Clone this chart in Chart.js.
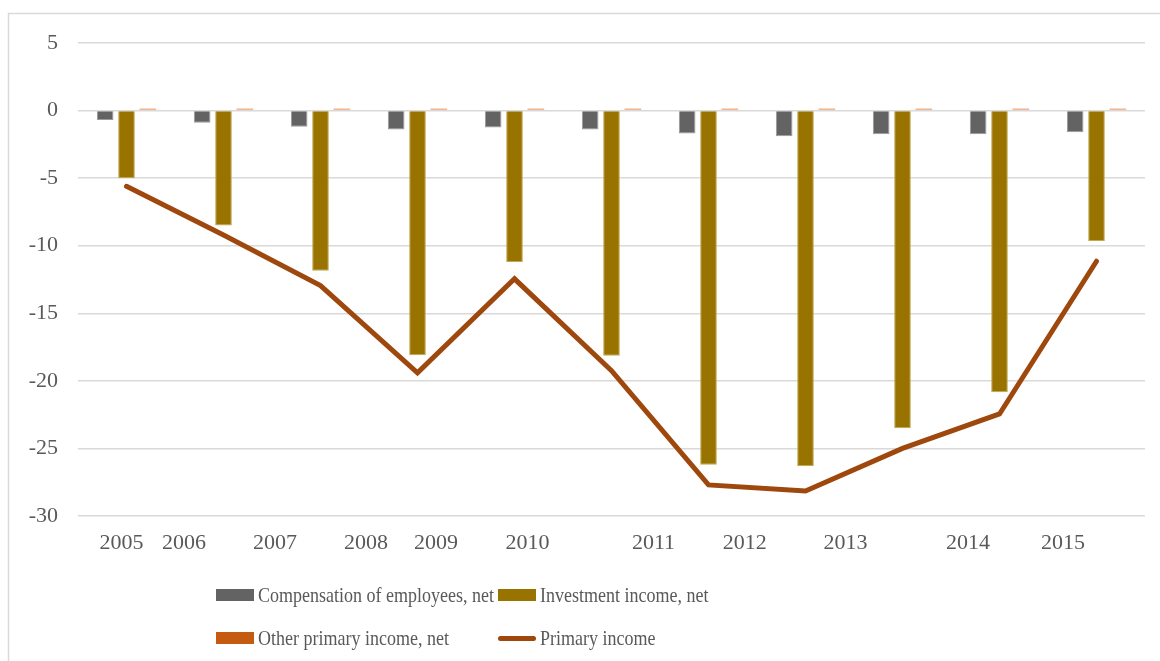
<!DOCTYPE html>
<html>
<head>
<meta charset="utf-8">
<title>Primary income</title>
<script src="https://cdn.jsdelivr.net/npm/chart.js@4/dist/chart.umd.min.js"></script>
<style>
  html, body { margin: 0; padding: 0; background: #ffffff; overflow: hidden; }
  #wrap { position: relative; width: 1160px; height: 661px; }
  #chart { position: absolute; left: 0; top: 0; }
  .legend-item {
    position: absolute; display: flex; align-items: center; height: 24px;
    font-family: "Liberation Serif", "Times New Roman", serif; font-size: 18px; color: #595959;
    white-space: nowrap;
  }
  .legend-item .swatch { width: 38px; height: 12px; margin-right: 4px; flex: none; }
  .legend-item .swatch.line { height: 5px; border-radius: 3px; }
  .legend-item .text { display: inline-block; transform: scaleY(1.15); transform-origin: 50% 50%; }
</style>
</head>
<body>
<div id="wrap">
  <canvas id="chart" width="1160" height="661"></canvas>
  <div id="legend"></div>
</div>
<script>
// Years on the category axis
const years = ['2005', '2006', '2007', '2008', '2009', '2010', '2011', '2012', '2013', '2014', '2015'];

// Series values
const compensation = [-0.7, -0.9, -1.2, -1.4, -1.25, -1.4, -1.7, -1.9, -1.75, -1.75, -1.6];
const investment = [-5.0, -8.5, -11.85, -18.1, -11.2, -18.15, -26.2, -26.3, -23.5, -20.85, -9.65];
const otherIncome = [0.15, 0.15, 0.15, 0.15, 0.15, 0.15, 0.15, 0.15, 0.15, 0.15, 0.15];
const primaryIncome = [-5.6, -9.2, -12.95, -19.4, -12.45, -19.25, -27.7, -28.15, -25.0, -22.45, -11.15];

// Series names
const seriesNames = ['Compensation of employees, net', 'Investment income, net', 'Other primary income, net', 'Primary income'];

// Value axis ticks
const yTicks = [5, 0, -5, -10, -15, -20, -25, -30];

// Where each year label sits along the bottom, in category units
const yearLabelSlots = [0.448, 1.093, 2.031, 2.969, 3.691, 4.634, 5.933, 6.873, 7.912, 9.175, 10.155];

const textColor = '#595959';
const serif = '"Liberation Serif", "Times New Roman", serif';

const frame = {
  id: 'frame',
  beforeDraw(chart) {
    const ctx = chart.ctx;
    ctx.save();
    ctx.strokeStyle = '#d9d9d9';
    ctx.lineWidth = 1.5;
    ctx.beginPath();
    ctx.moveTo(8.5, chart.height);
    ctx.lineTo(8.5, 13.5);
    ctx.lineTo(chart.width, 13.5);
    ctx.stroke();
    ctx.restore();
  }
};

const chart = new Chart(document.getElementById('chart'), {
  data: {
    labels: years,
    datasets: [
      {
        type: 'line', label: seriesNames[3], data: primaryIncome,
        borderColor: '#9E480E', borderWidth: 5, pointRadius: 0, pointHoverRadius: 0,
        tension: 0, borderCapStyle: 'round', borderJoinStyle: 'miter', order: 0,
        xAxisID: 'x', yAxisID: 'y'
      },
      {
        type: 'bar', label: seriesNames[0], data: compensation,
        backgroundColor: '#636363', borderColor: '#9a9a9a', borderWidth: 1, order: 1,
        xAxisID: 'x', yAxisID: 'y'
      },
      {
        type: 'bar', label: seriesNames[1], data: investment,
        backgroundColor: '#997300', borderColor: '#c2a850', borderWidth: 1, order: 1,
        xAxisID: 'x', yAxisID: 'y'
      },
      {
        type: 'bar', label: seriesNames[2], data: otherIncome,
        backgroundColor: '#F0A77C', borderWidth: 0, order: 1,
        xAxisID: 'x', yAxisID: 'y'
      }
    ]
  },
  options: {
    responsive: false,
    animation: false,
    devicePixelRatio: 1,
    layout: { padding: { left: 0, right: 15, top: 43, bottom: 0 } },
    datasets: {
      bar: { categoryPercentage: 0.66, barPercentage: 0.78 }
    },
    plugins: {
      legend: { display: false },
      tooltip: { enabled: false }
    },
    scales: {
      x: {
        type: 'category',
        display: false,
        grid: { display: false }
      },
      yearAxis: {
        type: 'linear',
        position: 'bottom',
        min: 0,
        max: years.length,
        grid: { display: false, drawTicks: false },
        border: { display: false },
        afterBuildTicks(axis) {
          axis.ticks = yearLabelSlots.map(v => ({ value: v }));
        },
        afterFit(axis) { axis.height = 145; },
        ticks: {
          autoSkip: false,
          maxRotation: 0,
          padding: 14,
          color: textColor,
          font: { family: serif, size: 22 },
          callback: (value, index) => years[index]
        }
      },
      y: {
        type: 'linear',
        min: -30,
        max: 5,
        afterBuildTicks(axis) {
          axis.ticks = yTicks.map(v => ({ value: v }));
        },
        afterFit(axis) { axis.width = 78; },
        grid: { color: '#d9d9d9', lineWidth: 1.5, drawTicks: false },
        border: { display: false },
        ticks: {
          padding: 20,
          color: textColor,
          font: { family: serif, size: 22 },
          callback: v => String(v)
        }
      }
    }
  },
  plugins: [frame]
});

// Legend laid out as a two-column grid below the plot
const legendSpecs = [
  { name: seriesNames[0], color: '#636363', kind: 'box', left: 216, top: 583 },
  { name: seriesNames[1], color: '#997300', kind: 'box', left: 498, top: 583 },
  { name: seriesNames[2], color: '#C55A11', kind: 'box', left: 216, top: 626 },
  { name: seriesNames[3], color: '#9E480E', kind: 'line', left: 498, top: 626 }
];
const legendEl = document.getElementById('legend');
legendSpecs.forEach(s => {
  const item = document.createElement('div');
  item.className = 'legend-item';
  item.style.left = s.left + 'px';
  item.style.top = s.top + 'px';
  const sw = document.createElement('span');
  sw.className = 'swatch' + (s.kind === 'line' ? ' line' : '');
  sw.style.background = s.color;
  const label = document.createElement('span');
  label.className = 'text';
  label.textContent = s.name;
  item.appendChild(sw);
  item.appendChild(label);
  legendEl.appendChild(item);
});
</script>
</body>
</html>
